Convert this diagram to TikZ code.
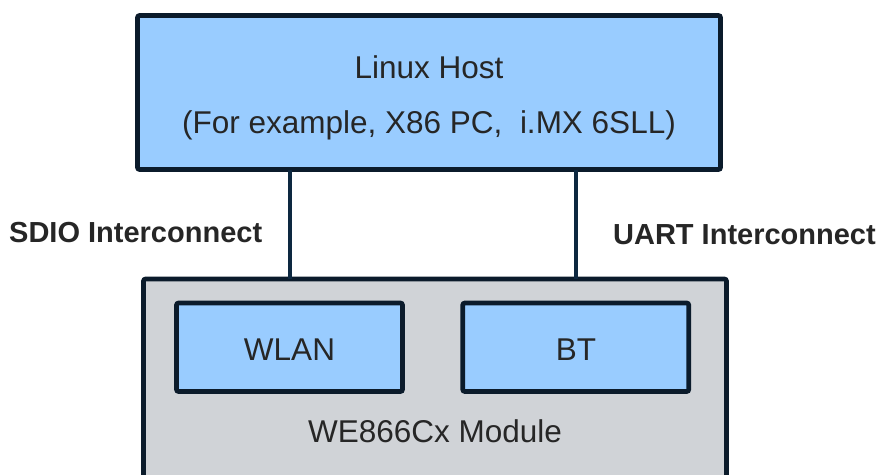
\documentclass[tikz,border=0pt]{standalone}
\usepackage{fontspec}
\setmainfont{Liberation Sans}
\usetikzlibrary{positioning,calc}

\definecolor{edgenavy}{HTML}{0B1B2B}
\definecolor{linknavy}{HTML}{0D2840}
\definecolor{hostblue}{HTML}{99CCFF}
\definecolor{modgray}{HTML}{D0D3D7}
\definecolor{inkgray}{HTML}{262626}

\begin{document}
\begin{tikzpicture}[
    x=1pt, y=-1pt,
    block/.style={draw=edgenavy, line width=4.6pt, rounded corners=2pt, inner sep=0pt, outer sep=0pt},
    hostbox/.style={block, fill=hostblue, minimum width=583pt, minimum height=154pt},
    modbox/.style={block, fill=modgray, minimum width=583pt, minimum height=230pt},
    unitbox/.style={block, fill=hostblue, minimum width=226pt, minimum height=88.5pt},
    txt/.style={text=inkgray, inner sep=0pt, anchor=base, font=\fontsize{31.5}{36}\selectfont},
    bus/.style={text=inkgray, inner sep=0pt, font=\fontsize{29}{34}\selectfont\bfseries},
    link/.style={draw=linknavy, line width=4pt}
]
\clip (0,0) rectangle (880,474);

% host side
\node[hostbox] (host) at (429,92.5) {};
\node[txt] (hostname) at (429,78) {Linux Host};
\node[txt] (hostnote) at (429,133) {(For example, X86 PC,\ \ i.MX 6SLL)};

% module side
\node[modbox] (module) at (435,394) {};
\node[unitbox] (wlan) at (289.5,347.25) {};
\node[unitbox] (bt) at (575.75,347.25) {};
\node[txt] (wlanname) at (289.5,360) {WLAN};
\node[txt] (btname) at (576,360) {BT};
\node[txt] (modname) at (435,442) {WE866Cx Module};

% interconnects
\draw[link] (wlan.north |- host.south) -- (wlan.north |- module.north);
\draw[link] (bt.north |- host.south) -- (bt.north |- module.north);
\node[bus, anchor=base west] (sdio) at (9,242) {SDIO Interconnect};
\node[bus, anchor=base east] (uart) at (876,244) {UART Interconnect};

\end{tikzpicture}
\end{document}
